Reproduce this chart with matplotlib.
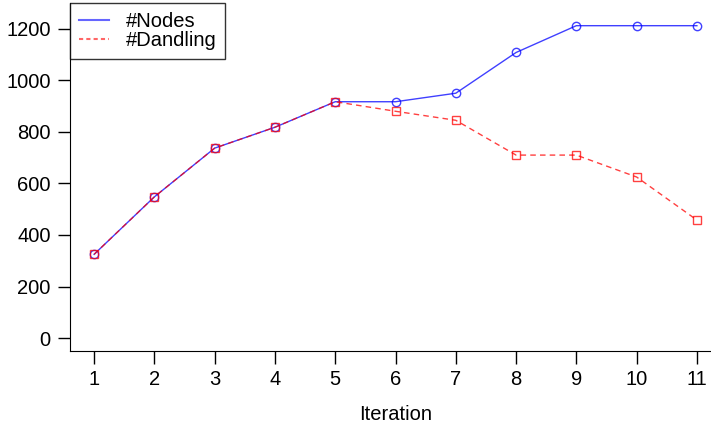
import matplotlib.pyplot as plt
from matplotlib.lines import Line2D

plt.rcParams['font.family'] = ['Liberation Sans', 'DejaVu Sans']

iteration = [1, 2, 3, 4, 5, 6, 7, 8, 9, 10, 11]
nodes = [325, 548, 737, 818, 917, 917, 950, 1108, 1212, 1212, 1212]
dandling = [325, 548, 737, 818, 917, 880, 845, 710, 710, 625, 458]

fig = plt.figure(figsize=(7.11, 4.30), dpi=100)
ax = fig.add_axes([70 / 711, 79 / 430, 651 / 711, 348 / 430])

ax.plot(iteration, nodes, color="blue", alpha=0.75, lw=1, marker="o",
        markersize=6, markerfacecolor="none")
ax.plot(iteration, dandling, color="red", alpha=0.75, lw=1, ls=(0, (4, 3)),
        marker="s", markersize=5.5, markerfacecolor="none")

ax.set_xlim(0.6, 11.4)
ax.set_ylim(-50, 1300)
ax.set_xticks(iteration)
ax.set_yticks([0, 200, 400, 600, 800, 1000, 1200])
ax.tick_params(labelsize=14.5, length=9, width=1, pad=5)
ax.spines["top"].set_visible(False)
ax.spines["right"].set_visible(False)
ax.set_xlabel("Iteration", fontsize=14.5, labelpad=11)

# legend shows lines only, like the R legend
handles = [Line2D([], [], color="blue", alpha=0.6, lw=1.5),
           Line2D([], [], color="red", alpha=0.6, lw=1.5, ls=(0, (2, 1.5)))]
leg = ax.legend(handles, ["#Nodes", "#Dandling"], loc="upper left",
                fontsize=14.5, frameon=True, fancybox=False,
                borderaxespad=0, handlelength=1.5, handletextpad=0.8,
                labelspacing=0.0, borderpad=0.45)
leg.get_frame().set_edgecolor("black")
leg.get_frame().set_linewidth(1)

fig.savefig("out.png", dpi=100)
